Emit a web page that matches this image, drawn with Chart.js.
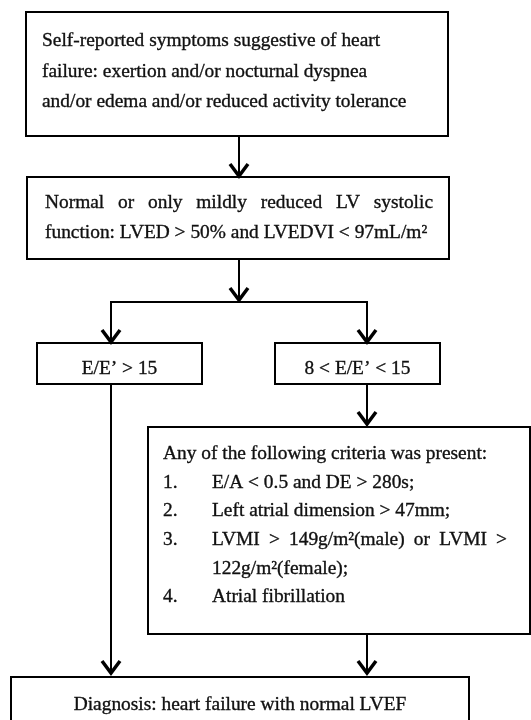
<!DOCTYPE html>
<html>
<head>
<meta charset="utf-8">
<script src="https://cdn.jsdelivr.net/npm/chart.js@4"></script>
<style>
html, body { margin: 0; padding: 0; background: #fff; }
canvas { display: block; }
</style>
</head>
<body>
<canvas id="flow" width="531" height="720"></canvas>
<script>
// boxes of the flowchart, in page units (0..531 across, 0..720 down)
const boxX0 = [26, 27, 37, 275, 148, 11];
const boxX1 = [448, 449, 202, 440, 530, 469];
const boxY0 = [12, 177, 343, 343, 427, 677];
const boxY1 = [136, 259, 384, 384, 634, 740];

const boxText = [
    ['Self-reported symptoms suggestive of heart',
     'failure: exertion and/or nocturnal dyspnea',
     'and/or edema and/or reduced activity tolerance'],
    ['Normal or only mildly reduced LV systolic',
     'function: LVED > 50% and LVEDVI < 97mL/m²'],
    ['E/E’ > 15'],
    ['8 < E/E’ < 15'],
    ['Any of the following criteria was present:',
     '1.\tE/A < 0.5 and DE > 280s;',
     '2.\tLeft atrial dimension > 47mm;',
     '3.\tLVMI > 149g/m²(male) or LVMI >',
     '\t122g/m²(female);',
     '4.\tAtrial fibrillation'],
    ['Diagnosis: heart failure with normal LVEF']
];

// connector lines, each a list of [x, y] points
const connectors = [
    [[239, 136], [239, 176]],
    [[239, 259], [239, 300]],
    [[111, 342], [111, 302], [367, 302], [367, 342]],
    [[111, 384], [111, 673]],
    [[367, 384], [367, 424]],
    [[367, 634], [367, 673]]
];

// where each arrow head points
const arrowTipX = [239, 239, 111, 367, 367, 111, 367];
const arrowTipY = [176, 300, 342, 342, 424, 673, 673];

// text placement inside each box
const textLayout = [
    { x: 42, align: 'left', baselines: [46, 76.5, 107] },
    { x: 45, align: 'left', baselines: [208, 237.5], justify: { 0: 433 } },
    { x: 119.5, align: 'center', baselines: [374] },
    { x: 357.5, align: 'center', baselines: [374] },
    { x: 163, indent: 212, align: 'left', baselines: [459, 487.5, 516, 545, 573.5, 602], justify: { 3: 507 } },
    { x: 240, align: 'center', baselines: [710] }
];

// measured line lengths used to size the font: [box, line, width]
const fitLines = [[0, 0, 341], [0, 2, 378], [1, 1, 364], [4, 0, 326], [5, 0, 332]];

const datasets = [];
boxX0.forEach(function (x0, i) {
    const x1 = boxX1[i], y0 = boxY0[i], y1 = boxY1[i];
    datasets.push({
        data: [{ x: x0, y: y0 }, { x: x1, y: y0 }, { x: x1, y: y1 }, { x: x0, y: y1 }, { x: x0, y: y0 }],
        borderWidth: 2,
        borderCapStyle: 'square'
    });
});
connectors.forEach(function (path) {
    datasets.push({
        data: path.map(p => ({ x: p[0], y: p[1] })),
        borderWidth: 2
    });
});
arrowTipX.forEach(function (tx, i) {
    const ty = arrowTipY[i];
    datasets.push({
        data: [{ x: tx - 9, y: ty - 12 }, { x: tx, y: ty }, { x: tx + 9, y: ty - 12 }],
        borderWidth: 3.5
    });
});
datasets.forEach(function (d) {
    d.showLine = true;
    d.pointRadius = 0;
    d.borderColor = '#000';
    d.borderJoinStyle = 'miter';
    d.fill = false;
    d.tension = 0;
});

function drawJustified(ctx, text, xStart, xEnd, yb) {
    const words = text.split(' ').filter(Boolean);
    const widths = words.map(w => ctx.measureText(w).width);
    const total = widths.reduce((a, b) => a + b, 0);
    const gap = (xEnd - xStart - total) / (words.length - 1);
    let cx = xStart;
    words.forEach(function (w, k) {
        ctx.fillText(w, cx, yb);
        ctx.strokeText(w, cx, yb);
        cx += widths[k] + gap;
    });
}

const flowText = {
    id: 'flowText',
    beforeDraw(chart) {
        const ctx = chart.ctx;
        ctx.save();
        ctx.fillStyle = '#fff';
        ctx.fillRect(0, 0, chart.width, chart.height);
        ctx.restore();
    },
    afterDatasetsDraw(chart) {
        const ctx = chart.ctx;
        const sx = chart.scales.x, sy = chart.scales.y;
        const family = '"Liberation Serif", "Times New Roman", serif';
        ctx.save();
        ctx.font = '100px ' + family;
        // average scale over a few measured lines
        let ratio = 0;
        fitLines.forEach(function (f) {
            const w = sx.getPixelForValue(f[2]) - sx.getPixelForValue(0);
            ratio += w / ctx.measureText(boxText[f[0]][f[1]]).width;
        });
        const size = 100 * ratio / fitLines.length;
        ctx.font = size.toFixed(2) + 'px ' + family;
        ctx.fillStyle = '#111';
        ctx.strokeStyle = '#111';
        ctx.lineWidth = 0.35;
        ctx.textBaseline = 'alphabetic';

        boxText.forEach(function (lines, i) {
            const lay = textLayout[i];
            lines.forEach(function (line, j) {
                const yb = sy.getPixelForValue(lay.baselines[j]);
                let xPos = sx.getPixelForValue(lay.x);
                let body = line;
                if (line.indexOf('\t') >= 0) {
                    const parts = line.split('\t');
                    ctx.textAlign = 'left';
                    if (parts[0]) {
                        ctx.fillText(parts[0], xPos, yb);
                        ctx.strokeText(parts[0], xPos, yb);
                    }
                    body = parts[1];
                    xPos = sx.getPixelForValue(lay.indent);
                }
                if (lay.justify && lay.justify[j] !== undefined) {
                    ctx.textAlign = 'left';
                    drawJustified(ctx, body, xPos, sx.getPixelForValue(lay.justify[j]), yb);
                } else {
                    ctx.textAlign = lay.align;
                    ctx.fillText(body, xPos, yb);
                    ctx.strokeText(body, xPos, yb);
                }
            });
        });
        ctx.restore();
    }
};

new Chart(document.getElementById('flow').getContext('2d'), {
    type: 'scatter',
    data: { datasets: datasets },
    options: {
        responsive: false,
        animation: false,
        events: [],
        layout: { padding: 0 },
        plugins: {
            legend: { display: false },
            tooltip: { enabled: false }
        },
        scales: {
            x: { type: 'linear', min: 0, max: 531, display: false },
            y: { type: 'linear', min: 0, max: 720, reverse: true, display: false }
        }
    },
    plugins: [flowText]
});
</script>
</body>
</html>
